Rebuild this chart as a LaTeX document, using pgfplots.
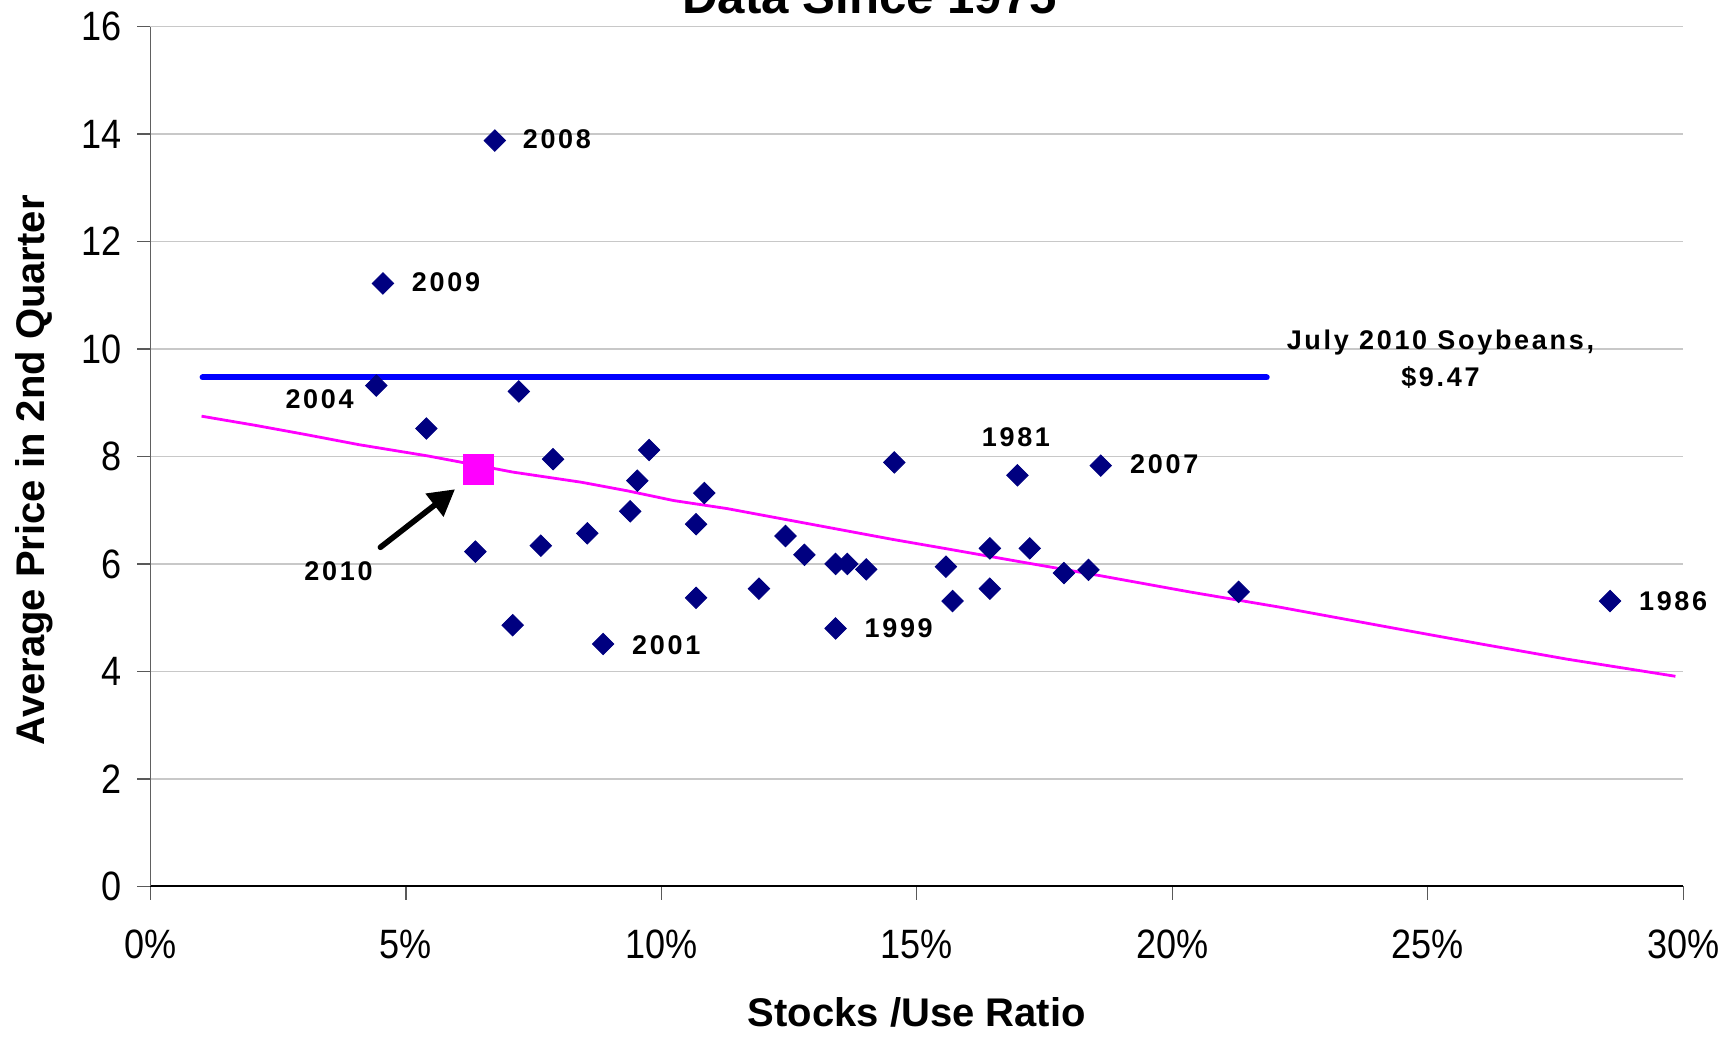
\documentclass[border=0pt]{standalone}
\usepackage{fontspec}
\setmainfont{Liberation Sans}
\newfontfamily\tickfont[FakeStretch=0.88]{Liberation Sans}
\newfontfamily\yearfont[LetterSpace=10]{Liberation Sans}
\usepackage{pgfplots}
\pgfplotsset{compat=1.18}
\usetikzlibrary{arrows.meta}
\definecolor{navydot}{HTML}{000080}
\definecolor{fitline}{HTML}{FF00FF}
\definecolor{julyblue}{HTML}{0000FF}
\definecolor{gridgray}{HTML}{C8C8C8}
\tikzset{yr/.style={font=\yearfont\bfseries\fontsize{13.5}{18.3}\selectfont, inner sep=0pt}}

\begin{document}
\begin{tikzpicture}
\begin{axis}[
  scale only axis, width=766.3pt, height=429.9pt,
  xmin=0, xmax=30, ymin=0, ymax=16,
  axis x line*=bottom, axis y line*=left,
  axis line style={-},
  x axis line style={black, line width=1pt},
  y axis line style={gray!75!black, line width=0.6pt},
  xtick={0,5,...,30}, ytick={0,2,...,16},
  xticklabel={\pgfmathprintnumber{\tick}\%},
  /pgf/number format/assume math mode=true,
  tick align=outside, major tick length=6.6pt,
  tick style={gray!70!black, line width=0.6pt},
  ymajorgrids, grid style={gridgray, line width=0.6pt},
  ticklabel style={font=\tickfont\fontsize{20.5}{22}\selectfont, inner sep=0pt},
  xticklabel style={yshift=-15pt},
  yticklabel style={xshift=-7.8pt},
  xlabel={Stocks /Use Ratio},
  ylabel={Average Price in 2nd Quarter},
  label style={font=\bfseries\fontsize{20}{24}\selectfont, inner sep=0pt},
  xlabel style={at={(rel axis cs:0.5,0)}, anchor=base, yshift=-70.2pt},
  ylabel style={at={(rel axis cs:0,0.484)}, anchor=base, yshift=52.9pt},
  clip=false,
]
% trend line
\addplot[fitline, line width=1.4pt] coordinates {
  (1.0,8.75) (2.05,8.58) (3.03,8.41) (4.08,8.22) (5.43,8.01) (6.1,7.89)
  (7.09,7.71) (8.44,7.52) (9.34,7.36) (10.24,7.18) (11.29,7.03) (11.91,6.92)
  (13.38,6.66) (14.51,6.46) (15.60,6.28) (17.03,6.04) (18.60,5.78) (20.34,5.48)
  (22.08,5.20) (24.37,4.80) (26.05,4.51) (27.72,4.23) (29.85,3.91)};
% July 2010 futures price
\addplot[julyblue, line width=3pt, line cap=round] coordinates {(1.02,9.47) (21.85,9.47)};
% stocks/use vs price, 1975-2009
\addplot[only marks, mark=square*, mark size=3.8pt, color=navydot,
  mark options={rotate=45}] coordinates {
  (6.74,13.88) (4.55,11.22) (4.42,9.32) (7.21,9.21) (5.40,8.52) (7.88,7.95)
  (9.76,8.12) (9.53,7.55) (10.84,7.32) (9.39,6.98) (10.68,6.74) (8.55,6.57)
  (7.64,6.34) (6.36,6.23) (10.68,5.37) (7.09,4.86) (8.86,4.51) (12.43,6.52)
  (12.80,6.17) (13.41,6.00) (13.64,6.00) (14.01,5.90) (11.91,5.54) (13.41,4.80)
  (14.56,7.89) (15.57,5.95) (15.70,5.31) (16.43,6.29) (16.43,5.54) (16.97,7.65)
  (17.21,6.29) (17.88,5.83) (18.36,5.89) (18.60,7.83) (21.30,5.48) (28.57,5.31)};
% 2010 estimate
\addplot[only marks, mark=square*, mark size=7.6pt, color=fitline] coordinates {(6.42,7.76)};

\draw[line width=2.8pt, line cap=round, -{Triangle[length=13pt,width=14pt]}]
  (axis cs:4.50,6.31) -- (axis cs:5.96,7.39);

\node[yr, anchor=west] at (axis cs:7.28,13.90) {2008};
\node[yr, anchor=west] at (axis cs:5.11,11.24) {2009};
\node[yr] at (axis cs:3.31,9.06) {2004};
\node[yr] at (axis cs:3.68,5.87) {2010};
\node[yr, anchor=west] at (axis cs:9.42,4.49) {2001};
\node[yr, anchor=west] at (axis cs:13.97,4.80) {1999};
\node[yr] at (axis cs:16.94,8.36) {1981};
\node[yr, anchor=west] at (axis cs:19.17,7.85) {2007};
\node[yr, anchor=west] at (axis cs:29.13,5.31) {1986};
\node[yr, align=center] at (axis cs:25.25,9.81) {July 2010 Soybeans,\\\$9.47};
\end{axis}
\node[font=\bfseries\fontsize{24.6}{28}\selectfont, anchor=base, inner sep=0pt]
  at (359.6pt,436.6pt) {Data Since 1975};
\pgfresetboundingbox
\path[use as bounding box] (-75.25pt,-75.3pt) rectangle (792.25pt,443.2pt);
\end{tikzpicture}
\end{document}
